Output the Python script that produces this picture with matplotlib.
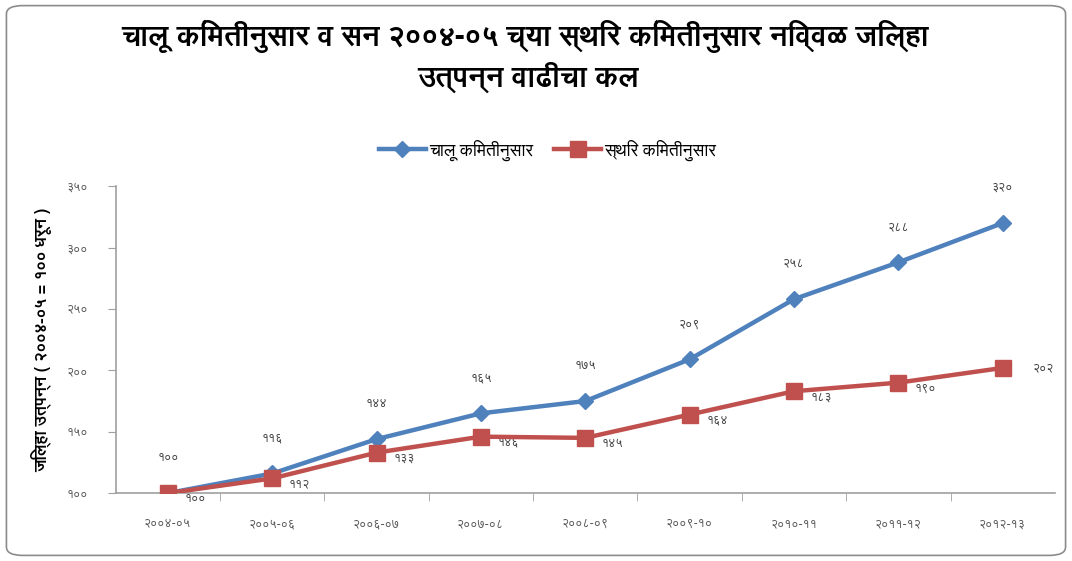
import matplotlib.pyplot as plt
from matplotlib import font_manager as fm
from matplotlib.ft2font import FT2Font
from matplotlib.patches import FancyBboxPatch

# find installed fonts that have Devanagari glyphs, prefer one with a bold face
cands = {}
for f in fm.fontManager.ttflist:
    try:
        if ord('च') in FT2Font(f.fname).get_charmap():
            cands.setdefault(f.name, []).append(f.weight)
    except Exception:
        pass
deva = None
for name, weights in cands.items():
    if any(isinstance(w, int) and w >= 600 for w in weights) or 'bold' in str(weights):
        deva = name
        break
if deva is None and cands:
    deva = list(cands)[0]
fams = [deva, 'DejaVu Sans'] if deva else ['DejaVu Sans']
plt.rcParams['font.family'] = fams

years = ['२००४-०५', '२००५-०६', '२००६-०७', '२००७-०८', '२००८-०९',
         '२००९-१०', '२०१०-११', '२०११-१२', '२०१२-१३']
chalu = [100, 116, 144, 165, 175, 209, 258, 288, 320]
sthir = [100, 112, 133, 146, 145, 164, 183, 190, 202]
yticks = [100, 150, 200, 250, 300, 350]
ytick_labels = ['१००', '१५०', '२००', '२५०', '३००', '३५०']
digits = '०१२३४५६७८९'


def deva_num(n):
    return ''.join(digits[int(c)] for c in str(n))


fig = plt.figure(figsize=(10.72, 5.61), dpi=100)
fig.patches.append(FancyBboxPatch((0.006, 0.01), 0.988, 0.98, transform=fig.transFigure,
                                  boxstyle='round,pad=0,rounding_size=0.015',
                                  fc='none', ec='#8c8c8c', lw=1.2, zorder=-1))
ax = fig.add_axes([0.108, 0.121, 0.876, 0.547])

x = list(range(len(years)))
ax.plot(x, chalu, color='#4F81BD', lw=3.2, marker='D', ms=8, label='चालू किमतीनुसार', zorder=3)
ax.plot(x, sthir, color='#C0504D', lw=3.2, marker='s', ms=11, label='स्थिर किमतीनुसार', zorder=4)

for i, v in enumerate(chalu):
    ax.annotate(deva_num(v), (i, v), xytext=(0, 21), textcoords='offset points',
                ha='center', va='bottom', fontsize=9, color='#404040')
for i, v in enumerate(sthir):
    if i == len(sthir) - 1:
        ax.annotate(deva_num(v), (i, v), xytext=(22, 0), textcoords='offset points',
                    ha='left', va='center', fontsize=9, color='#404040')
    else:
        ax.annotate(deva_num(v), (i, v), xytext=(12, 0), textcoords='offset points',
                    ha='left', va='top', fontsize=9, color='#404040')

ax.set_xlim(-0.5, len(years) - 0.5)
ax.set_ylim(100, 350)
ax.set_xticks(x)
ax.set_xticklabels(years, fontsize=9, color='#595959')
ax.set_xticks([i + 0.5 for i in x[:-1]], minor=True)
ax.tick_params(axis='x', which='major', length=0, pad=18)
ax.tick_params(axis='x', which='minor', length=6, color='#a0a0a0')
ax.set_yticks(yticks)
ax.set_yticklabels(ytick_labels, fontsize=9, color='#595959')
ax.tick_params(axis='y', length=6, color='#a0a0a0', pad=14)
for s in ['top', 'right']:
    ax.spines[s].set_visible(False)
for s in ['left', 'bottom']:
    ax.spines[s].set_color('#a0a0a0')
    ax.spines[s].set_linewidth(1.2)
ax.set_ylabel('जिल्हा उत्पन्न ( २००४-०५ = १०० धरून )', fontsize=12, fontweight='bold', labelpad=10)

fig.text(0.49, 0.935, 'चालू किंमतीनुसार व सन २००४-०५ च्या स्थिर किंमतीनुसार निव्वळ जिल्हा',
         ha='center', va='center', fontsize=21, fontweight='bold')
fig.text(0.493, 0.862, 'उत्पन्न वाढीचा कल', ha='center', va='center', fontsize=21, fontweight='bold')

ax.legend(loc='center', bbox_to_anchor=(0.46, 1.118), ncol=2, frameon=False,
          fontsize=12.5, handlelength=2.7, handletextpad=0.2, columnspacing=1.2)

plt.savefig('out.png', dpi=100)
